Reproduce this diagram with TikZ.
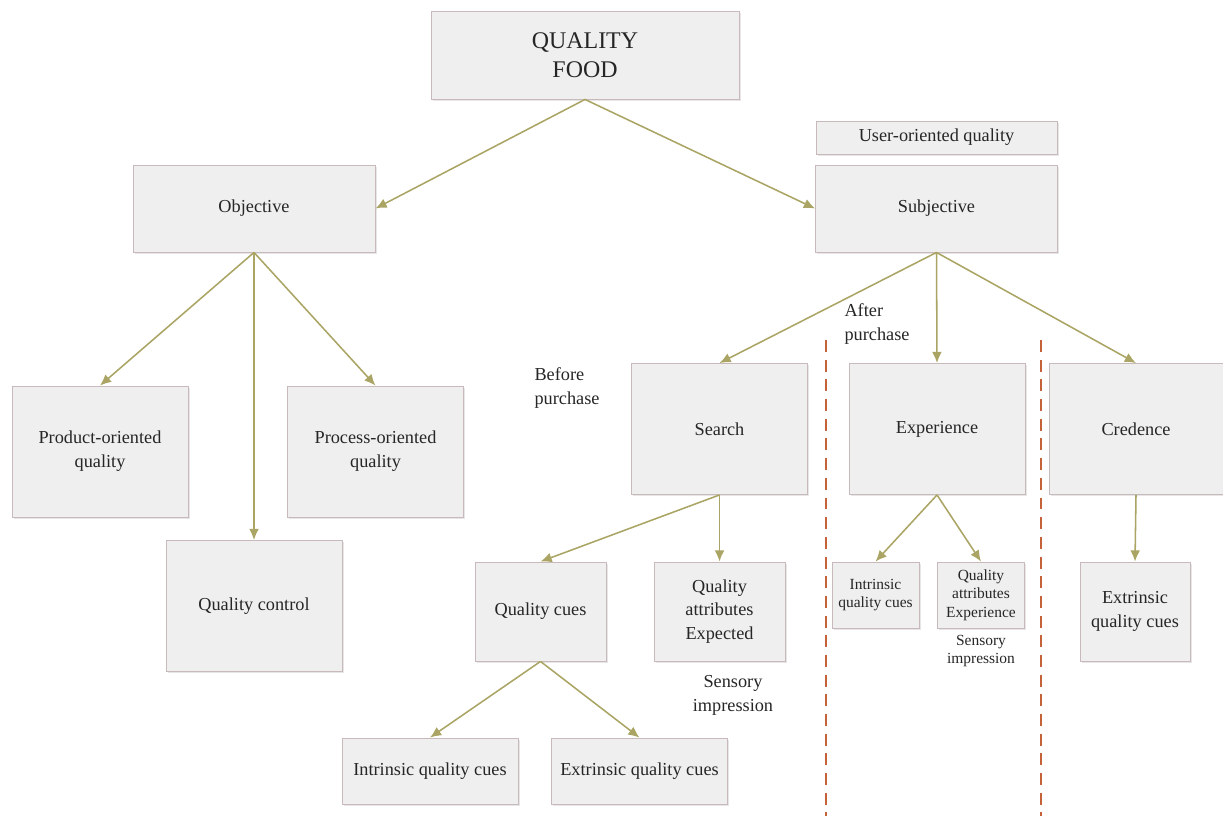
\documentclass[tikz,border=0pt]{standalone}
\usepackage{fontspec}
\setmainfont{Liberation Serif}
\definecolor{BoxGray}{RGB}{239,239,239}
\definecolor{BoxLine}{RGB}{200,186,186}
\definecolor{ArrowOlive}{RGB}{170,165,100}
\definecolor{RustRed}{RGB}{196,98,58}
\usetikzlibrary{positioning,arrows.meta,shadows}
\tikzset{>={Latex[length=8pt,width=7pt]}}

\begin{document}
\begin{tikzpicture}[x=0.025cm,y=-0.025cm,
        box/.style={draw=BoxLine,fill=BoxGray,line width=0.6pt,align=center,inner sep=2pt,
            font=\fontsize{13}{17}\selectfont,text=black!85,
            drop shadow={opacity=0.2,shadow xshift=1.2pt,shadow yshift=-1.2pt}},
        smallbox/.style={box,font=\fontsize{11}{13}\selectfont},
        link/.style={->,ArrowOlive,line width=1.1pt},
        note/.style={align=center,font=\fontsize{13}{17}\selectfont,text=black!85}]
        % fix the frame
        \useasboundingbox (0,0) rectangle (1223,816);
        % boxes
        \node[box,minimum width=7.7cm,minimum height=2.2cm,font=\fontsize{17}{21}\selectfont] at (585,55) (food) {QUALITY\\FOOD};
        \node[box,minimum width=6.025cm,minimum height=0.825cm] at (936.5,137.5) (user) {User-oriented quality};
        \node[box,minimum width=6.05cm,minimum height=2.175cm] at (254,208.5) (obj) {Objective};
        \node[box,minimum width=6.05cm,minimum height=2.175cm] at (936.5,208.5) (subj) {Subjective};
        \node[box,minimum width=4.4cm,minimum height=3.275cm] at (100,451.5) (prod) {Product-oriented\\quality};
        \node[box,minimum width=4.4cm,minimum height=3.275cm] at (375.5,451.5) (proc) {Process-oriented\\quality};
        \node[box,minimum width=4.4cm,minimum height=3.275cm] at (254,606) (control) {Quality control};
        \node[box,minimum width=4.4cm,minimum height=3.275cm] at (719.5,429) (search) {Search};
        \node[box,minimum width=4.4cm,minimum height=3.275cm] at (937,429) (exper) {Experience};
        \node[box,minimum width=4.35cm,minimum height=3.275cm] at (1136,429) (cred) {Credence};
        \node[box,minimum width=3.275cm,minimum height=2.475cm] at (540.5,611.5) (cues) {Quality cues};
        \node[box,minimum width=3.275cm,minimum height=2.475cm] at (719.5,611.5) (expected) {Quality\\attributes\\Expected};
        \node[smallbox,minimum width=2.175cm,minimum height=1.65cm] at (875.5,595) (eintr) {Intrinsic\\quality cues};
        \node[smallbox,minimum width=2.175cm,minimum height=1.65cm] at (981,595) (eattr) {Quality\\attributes\\Experience};
        \node[box,minimum width=2.75cm,minimum height=2.475cm] at (1135,611.5) (cextr) {Extrinsic\\quality cues};
        \node[box,minimum width=4.4cm,minimum height=1.65cm] at (430,771) (sintr) {Intrinsic quality cues};
        \node[box,minimum width=4.4cm,minimum height=1.65cm] at (639.5,771) (sextr) {Extrinsic quality cues};
        % free labels
        \node[note,align=left] at (567,388) (before) {Before\\purchase};
        \node[note,align=left] at (877,324) (after) {After\\purchase};
        \node[note] at (733,695) (sens) {Sensory\\impression};
        \node[note,font=\fontsize{11}{13}\selectfont] at (981,651) (esens) {Sensory\\impression};
        % dashed separators
        \coordinate (d1a) at (826,340); \coordinate (d1b) at (826,816);
        \coordinate (d2a) at (1041,340); \coordinate (d2b) at (1041,816);
        \draw[RustRed,line width=1.4pt,dash pattern=on 8.5pt off 5.5pt] (d1a) -- (d1b);
        \draw[RustRed,line width=1.4pt,dash pattern=on 8.5pt off 5.5pt] (d2a) -- (d2b);
        % arrows
        \draw[link] (food.south) -- (obj.east);
        \draw[link] (food.south) -- (subj.west);
        \foreach \n in {prod,control,proc}
            \draw[link] (obj.south) -- (\n.north);
        \foreach \n in {search,exper,cred}
            \draw[link] (subj.south) -- (\n.north);
        \draw[link] (search.south) -- (cues.north);
        \draw[link] (search.south) -- (expected.north);
        \draw[link] (cues.south) -- (sintr.north);
        \draw[link] (cues.south) -- (sextr.north);
        \draw[link] (exper.south) -- (eintr.north);
        \draw[link] (exper.south) -- (eattr.north);
        \draw[link] (cred.south) -- (cextr.north);
    \end{tikzpicture}
\end{document}
